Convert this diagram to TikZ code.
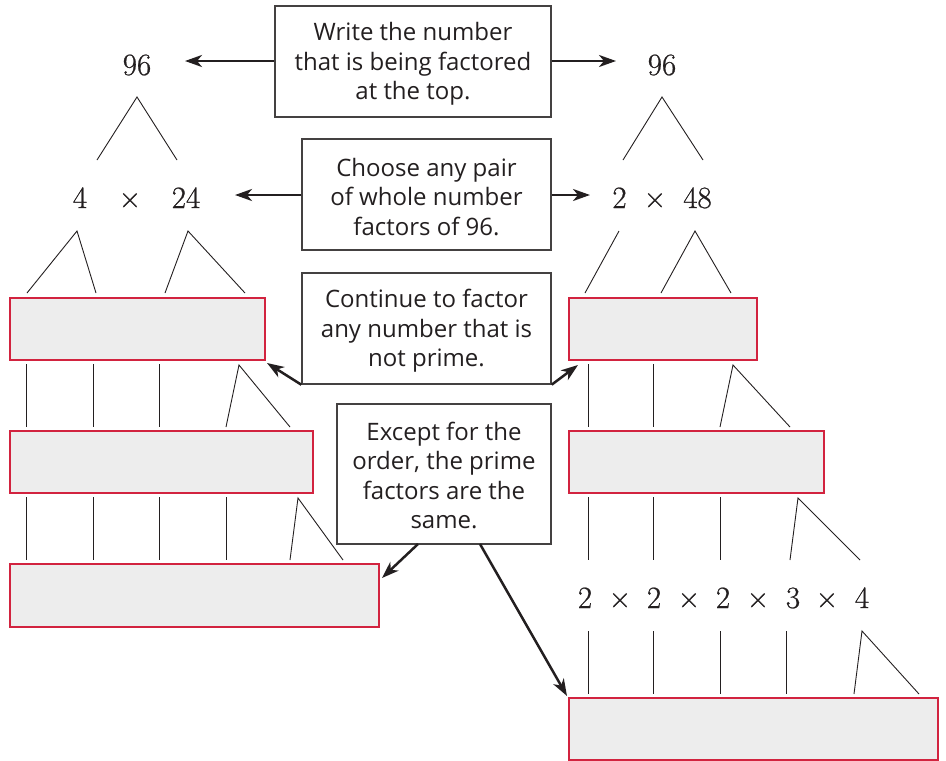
\documentclass[tikz,border=0pt]{standalone}
\usepackage{fontspec}
\newfontfamily\boxfont{Open Sans}
\newfontfamily\numfont[FakeBold=0.7]{Latin Modern Roman}
\usetikzlibrary{arrows.meta}
\definecolor{redline}{HTML}{D2233F}
\definecolor{boxfill}{HTML}{EDEDED}
\definecolor{ink}{HTML}{231F20}
\tikzset{
  note/.style={draw=ink!85,line width=1.4pt,rectangle,inner sep=0pt},
  notetext/.style={inner sep=0pt,align=center,yshift=-2.5pt,
    font=\boxfont\fontsize{24}{29.5}\selectfont,text=ink},
  blank/.style={draw=redline,fill=boxfill,line width=1.4pt,rectangle,inner sep=0pt},
  num/.style={anchor=base,inner sep=0pt,font=\numfont\fontsize{31}{36}\selectfont,text=ink},
  tree/.style={line width=0.9pt,draw=ink},
  arr/.style={line width=2.5pt,draw=ink,-{Stealth[length=17pt,width=12pt,inset=5pt]}},
}
\begin{document}
\begin{tikzpicture}[x=1pt,y=-1pt]
\useasboundingbox (0,0) rectangle (946,761);
% explanatory boxes
\node[note,minimum width=276pt,minimum height=111pt] (b1) at (413,61.5) {};
\node[notetext] (b1t) at (b1.center) {Write the number\\that is being factored\\at the top.};
\node[note,minimum width=249pt,minimum height=111pt] (b2) at (426.5,194.5) {};
\node[notetext] (b2t) at (b2.center) {Choose any pair\\of whole number\\factors of 96.};
\node[note,minimum width=249pt,minimum height=111pt] (b3) at (426.5,328.5) {};
\node[notetext] (b3t) at (b3.center) {Continue to factor\\any number that is\\not prime.};
\node[note,minimum width=214pt,minimum height=140pt] (b4) at (444,474) {};
\node[notetext,yshift=1pt] (b4t) at (b4.center) {Except for the\\order, the prime\\factors are the\\same.};
% blank boxes
\node[blank,minimum width=255pt,minimum height=62pt] (L1) at (137.5,329) {};
\node[blank,minimum width=303pt,minimum height=62pt] (L2) at (161.5,462) {};
\node[blank,minimum width=369pt,minimum height=63pt] (L3) at (194.5,595.5) {};
\node[blank,minimum width=188pt,minimum height=62pt] (R1) at (663,329) {};
\node[blank,minimum width=255pt,minimum height=62pt] (R2) at (696.5,462) {};
\node[blank,minimum width=369pt,minimum height=62pt] (R3) at (753.5,729) {};
% numbers
\node[num] (t1) at (137,75) {96};
\node[num] (t2) at (662,75) {96};
\node[num] (a4) at (80,208) {4};
\node[num] (ax) at (130,208) {×};
\node[num] (a24) at (186,208) {24};
\node[num] (c2) at (619.5,208) {2};
\node[num] (cx) at (655,208) {×};
\node[num] (c48) at (697.5,208) {48};
\node[num] (f1) at (585,608) {2};
\node[num] (x1) at (620,608) {×};
\node[num] (f2) at (654,608) {2};
\node[num] (x2) at (689,608) {×};
\node[num] (f3) at (723,608) {2};
\node[num] (x3) at (758,608) {×};
\node[num] (f4) at (793,608) {3};
\node[num] (x4) at (827,608) {×};
\node[num] (f5) at (862,608) {4};
% arrows
\coordinate (p1) at (185,61);
\coordinate (p2) at (616,61);
\coordinate (p3) at (235,195);
\coordinate (p4) at (590,195);
\coordinate (p5) at (267,363);
\coordinate (p6) at (578,365);
\coordinate (p7) at (382,578);
\coordinate (p8) at (567,696);
\draw[arr] (b1.west |- p1) -- (p1);
\draw[arr] (b1.east |- p2) -- (p2);
\draw[arr] (b2.west |- p3) -- (p3);
\draw[arr] (b2.east |- p4) -- (p4);
\draw[arr] (b3.south west) -- (p5);
\draw[arr] (b3.south east) -- (p6);
\draw[arr] (418,544) -- (p7);
\draw[arr] (480,544) -- (p8);
% tree lines
\draw[tree] (97,160) -- (137,97) -- (177,160);
\draw[tree] (623,160) -- (662,97) -- (703,160);
\draw[tree] (27,293) -- (77,231) -- (96,293);
\draw[tree] (165,293) -- (188,231) -- (245,293);
\draw[tree] (585,293) -- (619,231);
\draw[tree] (661,293) -- (695,231) -- (731,293);
% L1 -> L2
\foreach \x in {26,93,159} \draw[tree] (\x,364) -- (\x,427);
\draw[tree] (226,427) -- (239,365) -- (290,427);
% L2 -> L3
\foreach \x in {26,93,159,226} \draw[tree] (\x,497) -- (\x,560);
\draw[tree] (290,560) -- (298,498) -- (343,560);
% R1 -> R2
\foreach \x in {588,653} \draw[tree] (\x,364) -- (\x,427);
\draw[tree] (720,427) -- (733,365) -- (790,427);
% R2 -> numbers
\foreach \x in {588,653,720} \draw[tree] (\x,497) -- (\x,560);
\draw[tree] (790,560) -- (798,498) -- (860,560);
% numbers -> R3
\foreach \x in {588,653,720,786} \draw[tree] (\x,631) -- (\x,694);
\draw[tree] (854,694) -- (862,631) -- (919,694);
\end{tikzpicture}
\end{document}
